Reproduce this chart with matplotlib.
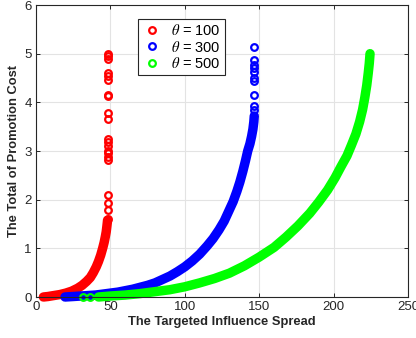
"""
Promotion cost vs targeted influence spread for three theta values
"""

import numpy as np
import matplotlib
matplotlib.use('Agg')
import matplotlib.pyplot as plt

plt.rcParams['font.family'] = ['Liberation Sans', 'DejaVu Sans']
plt.rcParams['mathtext.fontset'] = 'stix'

# theta = 100 : dense part of the curve, then scattered points near the cap
red_x = [5, 8, 12, 16, 20, 24, 28, 31, 34, 36.5, 38.5, 40.5, 42, 43.5, 44.8,
         45.8, 46.6, 47.2, 47.6, 47.9, 48.1]
red_y = [0.0, 0.01, 0.03, 0.05, 0.08, 0.12, 0.18, 0.24, 0.32, 0.40, 0.50,
         0.62, 0.73, 0.86, 1.0, 1.12, 1.24, 1.34, 1.44, 1.52, 1.58]
red_top_y = [1.60, 1.78, 1.93, 2.10, 2.82, 2.88, 2.95, 3.0, 3.10, 3.18, 3.25,
             3.66, 3.78, 4.12, 4.15, 4.45, 4.55, 4.60, 4.90, 4.95, 5.0]
red_top_x = [48.2] * len(red_top_y)

# theta = 300
blue_x = [19.5, 25, 30, 35, 40, 45, 50, 55, 60, 65, 70, 75, 80, 85, 90, 95,
          100, 105, 110, 115, 119, 123, 126.5, 129.5, 132.5, 135, 137, 139,
          140.8, 142.3, 143.8, 144.9, 145.8, 146.4, 146.7]
blue_y = [0.0, 0.01, 0.02, 0.03, 0.04, 0.06, 0.08, 0.10, 0.13, 0.16, 0.20,
          0.24, 0.29, 0.36, 0.43, 0.52, 0.62, 0.74, 0.88, 1.05, 1.20, 1.38,
          1.56, 1.76, 1.96, 2.17, 2.36, 2.58, 2.80, 3.0, 3.15, 3.30, 3.45,
          3.60, 3.72]
blue_top_y = [3.85, 3.92, 4.15, 4.43, 4.50, 4.63, 4.70, 4.77, 4.87, 5.13]
blue_top_x = [146.8] * len(blue_top_y)

# theta = 500
green_x = [42, 50, 60, 70, 80, 90, 100, 110, 120, 130, 140, 150, 160, 168,
           176, 184, 190, 196, 201, 205, 209, 212, 215, 217.5, 219.5, 221,
           222.3, 223.3, 224, 224.5]
green_y = [0.0, 0.02, 0.04, 0.07, 0.11, 0.15, 0.21, 0.29, 0.38, 0.49, 0.64,
           0.82, 1.02, 1.23, 1.46, 1.72, 1.95, 2.20, 2.45, 2.68, 2.90, 3.12,
           3.35, 3.60, 3.85, 4.10, 4.35, 4.60, 4.80, 5.0]
green_low_x = [31.8, 36.3]
green_low_y = [0.0, 0.0]

series = [
    (red_x, red_y, red_top_x, red_top_y, '#ff0000', r'$\theta$ = 100'),
    (blue_x, blue_y, blue_top_x, blue_top_y, '#0000ff', r'$\theta$ = 300'),
    (green_x, green_y, green_low_x, green_low_y, '#00ff00', r'$\theta$ = 500'),
]

fig = plt.figure(figsize=(4.16, 3.38), dpi=100)
ax = fig.add_axes([0.0865, 0.1213, 0.8942, 0.8639])

dark = '#262626'
for xs, ys, px, py, col, lab in series:
    ax.plot(xs, ys, '-', color=col, lw=6.8, solid_capstyle='round',
            solid_joinstyle='round', zorder=3, clip_on=False)
    ax.plot(px, py, 'o', color=col, ms=4.8, mew=1.6, mfc='none',
            linestyle='none', label=lab, zorder=4, clip_on=False)

ax.set_xlim(0, 250)
ax.set_ylim(0, 6)
ax.set_xticks(np.arange(0, 251, 50))
ax.set_yticks(np.arange(0, 7, 1))
ax.grid(True, color='#e3e3e3', linewidth=0.8, zorder=0)
ax.set_axisbelow(True)
ax.tick_params(direction='in', length=3, width=0.7, colors=dark,
               labelsize=9.5, top=True, right=True, pad=3)
for sp in ax.spines.values():
    sp.set_color(dark)
    sp.set_linewidth(0.8)
    sp.set_zorder(5)

ax.set_xlabel('The Targeted Influence Spread', fontsize=9.3,
              fontweight='bold', color=dark, labelpad=2)
ax.set_ylabel('The Total of Promotion Cost', fontsize=9.3,
              fontweight='bold', color=dark, labelpad=3)

leg = ax.legend(loc='upper left', bbox_to_anchor=(0.274, 0.953),
                fontsize=10.5, frameon=True, fancybox=False, framealpha=1,
                edgecolor=dark, borderpad=0.3, handlelength=1.4,
                handletextpad=0.6, labelspacing=0.1, borderaxespad=0)
leg.get_frame().set_linewidth(0.8)
leg.set_zorder(6)

plt.savefig('out.png', dpi=100)
plt.close()
